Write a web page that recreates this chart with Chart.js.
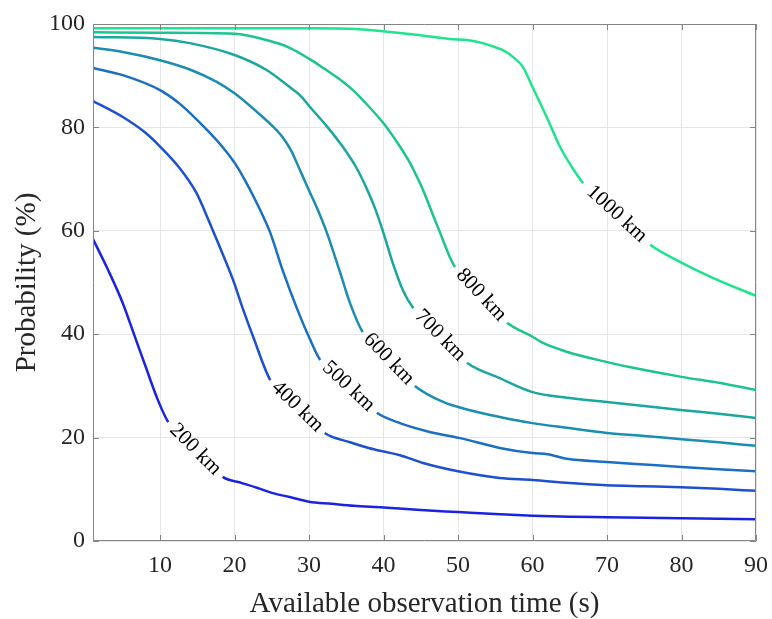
<!DOCTYPE html>
<html><head><meta charset="utf-8">
<script src="https://cdn.jsdelivr.net/npm/chart.js@4.4.0/dist/chart.umd.min.js"></script>
<style>html,body{margin:0;padding:0;background:#fff;} #wrap{width:772px;height:619px;}</style>
</head><body><div id="wrap"><canvas id="c" width="772" height="619"></canvas></div>
<script>
// ---- data ----
const seriesNames = ['200 km', '400 km', '500 km', '600 km', '700 km', '800 km', '1000 km'];

const x200 = [1, 3, 5, 6.5, 8, 9.7, 11.1, 18.4, 21, 23, 25, 27.4, 30, 33, 36, 40, 45, 50, 55, 60, 65, 70, 75, 80, 85, 90];
const y200 = [58.4, 52.5, 46, 40, 34, 27.3, 23, 12.4, 11.2, 10.3, 9.3, 8.5, 7.6, 7.2, 6.8, 6.5, 6.0, 5.6, 5.2, 4.9, 4.7, 4.6, 4.5, 4.4, 4.3, 4.2];

const x400 = [1, 5, 8, 10, 12.7, 14.9, 16, 17.6, 19.8, 21.1, 22.5, 24.8, 32.1, 35.5, 38, 40, 42.2, 45.3, 50, 55.6, 60, 65, 70, 75, 80, 85, 90];
const y400 = [85.1, 82, 79, 76.3, 72, 67.3, 63.8, 58.3, 50.5, 45, 39.5, 31.1, 20.9, 19.1, 18, 17.3, 16.6, 15.1, 13.5, 12.2, 11.8, 11.2, 10.8, 10.6, 10.4, 10.1, 9.7];

const x500 = [1, 5, 10, 12.7, 16.3, 18.5, 20.3, 21.5, 22.7, 23.8, 24.8, 26.5, 28.4, 30.1, 31.5, 39.1, 42.2, 46.2, 50.3, 55.6, 60, 62, 64.6, 70, 75, 80, 85, 90];
const y500 = [91.5, 90.1, 87.2, 84.5, 79.5, 76, 72.5, 69.5, 66.2, 62.9, 59.6, 52.2, 44.9, 39.1, 35, 24.8, 22.8, 21.1, 19.9, 18, 17, 16.8, 15.9, 15.3, 14.8, 14.3, 13.9, 13.5];

const x600 = [1, 5, 10, 14, 17.6, 20, 23, 25.2, 26.5, 27.6, 28.7, 30, 31.1, 32.4, 34.2, 35.5, 37.2, 44.2, 48, 51.6, 55.6, 60, 64.6, 70, 75, 80, 85, 90];
const y600 = [95.4, 94.6, 93, 91.2, 88.8, 86.6, 83, 80.1, 78, 75.5, 72, 67.8, 64.3, 59.6, 51.8, 46, 40.4, 30, 26.9, 25.3, 24, 22.8, 21.9, 20.9, 20.3, 19.7, 19.1, 18.4];

const x700 = [1, 10, 14, 20, 24.3, 27.4, 28.8, 30.1, 32.4, 34.6, 36.4, 37.7, 38.9, 39.9, 41.3, 42.6, 44, 51.2, 55.6, 60, 64.6, 70, 75, 80.2, 85, 90];
const y700 = [97.5, 97.1, 96.3, 94, 91.1, 87.8, 86.2, 84, 80.2, 76.1, 72.1, 68.3, 64.2, 60, 53.5, 48.5, 45, 34.5, 31.5, 28.8, 27.7, 26.9, 26.1, 25.3, 24.6, 23.8];

const x800 = [1, 10, 20, 24.3, 27.4, 30.1, 31.9, 34.2, 35.9, 37, 40, 42.2, 43.6, 44.7, 45.3, 46.9, 47.6, 48.9, 49.6, 56.6, 60, 61.4, 64.6, 70, 73.5, 80.2, 85, 90];
const y800 = [98.4, 98.3, 98.1, 96.9, 95.4, 93.2, 91.5, 89.2, 87.2, 85.6, 80.8, 76.3, 73, 69.8, 67.9, 62.1, 59.6, 54.9, 53, 42.2, 39.5, 38.3, 36.6, 34.6, 33.5, 31.7, 30.6, 29.2];

const x1000 = [1, 10, 20, 30, 36.8, 39.9, 44.4, 48.9, 51.2, 53.3, 55, 56.2, 57.4, 58.7, 60, 61.9, 63.7, 65.3, 66.8, 75.8, 79.8, 84.2, 90];
const y1000 = [99.2, 99.2, 99.2, 99.2, 99, 98.6, 97.9, 97.1, 96.9, 96.3, 95.5, 94.8, 93.6, 91.7, 87.8, 82, 76.2, 72.3, 69.2, 57.3, 54, 50.9, 47.4];

// index of the data point after which each inline contour label sits
const labelFromIndex = [6, 11, 14, 16, 16, 18, 18];

const xTicks = [10, 20, 30, 40, 50, 60, 70, 80, 90];
const xTitle = 'Available observation time (s)';
const yTitle = 'Probability (%)';

// ---- styling ----
const lineColors = ['#1a24e0', '#1c50cf', '#1a6fc2', '#1a8eb0', '#1aa79f', '#1cc492', '#1fe48e'];
const SERIF = '"Liberation Serif", "Times New Roman", serif';
const TEXT = '#262626';
const AXIS = '#858585';

const xsAll = [x200, x400, x500, x600, x700, x800, x1000];
const ysAll = [y200, y400, y500, y600, y700, y800, y1000];

const datasets = seriesNames.map((name, k) => {
  const gap = labelFromIndex[k];
  return {
    label: name,
    data: xsAll[k].map((x, i) => ({x: x, y: ysAll[k][i]})),
    borderColor: lineColors[k],
    borderWidth: 2.5,
    pointRadius: 0,
    fill: false,
    cubicInterpolationMode: 'monotone',
    segment: {
      borderColor: ctx => ctx.p0DataIndex === gap ? 'rgba(0,0,0,0)' : undefined
    }
  };
});

const contourLabels = {
  id: 'contourLabels',
  afterDatasetsDraw(chart) {
    const ctx = chart.ctx;
    ctx.save();
    ctx.font = '21px ' + SERIF;
    ctx.fillStyle = '#000';
    ctx.textAlign = 'center';
    ctx.textBaseline = 'middle';
    chart.data.datasets.forEach((ds, k) => {
      const meta = chart.getDatasetMeta(k);
      const i = labelFromIndex[k];
      const a = meta.data[i], b = meta.data[i + 1];
      const mx = (a.x + b.x) / 2, my = (a.y + b.y) / 2;
      const ang = Math.atan2(b.y - a.y, b.x - a.x);
      ctx.save();
      ctx.translate(mx, my);
      ctx.rotate(ang);
      ctx.fillText(ds.label, 0, 0);
      ctx.restore();
    });
    ctx.restore();
  }
};

const boxAndTicks = {
  id: 'boxAndTicks',
  afterDraw(chart) {
    const {ctx, chartArea: a, scales} = chart;
    ctx.save();
    ctx.strokeStyle = AXIS;
    ctx.lineWidth = 1;
    ctx.beginPath();
    ctx.rect(a.left + 0.5, a.top + 0.5, a.right - a.left - 1, a.bottom - a.top - 1);
    const L = 6;
    scales.x.ticks.forEach(t => {
      const px = Math.round(scales.x.getPixelForValue(t.value)) + 0.5;
      ctx.moveTo(px, a.bottom); ctx.lineTo(px, a.bottom - L);
      ctx.moveTo(px, a.top); ctx.lineTo(px, a.top + L);
    });
    scales.y.ticks.forEach(t => {
      const py = Math.round(scales.y.getPixelForValue(t.value)) + 0.5;
      ctx.moveTo(a.left, py); ctx.lineTo(a.left + L, py);
      ctx.moveTo(a.right, py); ctx.lineTo(a.right - L, py);
    });
    ctx.stroke();
    ctx.restore();
  }
};

new Chart(document.getElementById('c'), {
  type: 'line',
  data: {datasets},
  options: {
    responsive: false,
    animation: false,
    events: [],
    layout: {padding: {left: 0, right: 16, top: 24, bottom: 0}},
    plugins: {legend: {display: false}, tooltip: {enabled: false}},
    scales: {
      x: {
        type: 'linear', min: 1, max: 90,
        afterBuildTicks: s => { s.ticks = xTicks.map(v => ({value: v})); },
        afterFit: s => { s.height = 78; s.paddingLeft = 0; s.paddingRight = 0; },
        grid: {color: '#e6e6e6', lineWidth: 1, drawTicks: false},
        border: {display: false},
        ticks: {font: {family: SERIF, size: 24}, color: TEXT, padding: 10, maxRotation: 0},
        title: {display: true, text: xTitle, font: {family: SERIF, size: 29}, color: TEXT, padding: {top: 0, bottom: -3}}
      },
      y: {
        type: 'linear', min: 0, max: 100,
        afterFit: s => { s.width = 93; s.paddingTop = 0; s.paddingBottom = 0; },
        grid: {color: '#e6e6e6', lineWidth: 1, drawTicks: false},
        border: {display: false},
        ticks: {stepSize: 20, font: {family: SERIF, size: 24}, color: TEXT, padding: 8},
        title: {display: true, text: yTitle, font: {family: SERIF, size: 29}, color: TEXT, padding: {top: 10, bottom: 0}}
      }
    }
  },
  plugins: [contourLabels, boxAndTicks]
});
</script>
</body></html>
